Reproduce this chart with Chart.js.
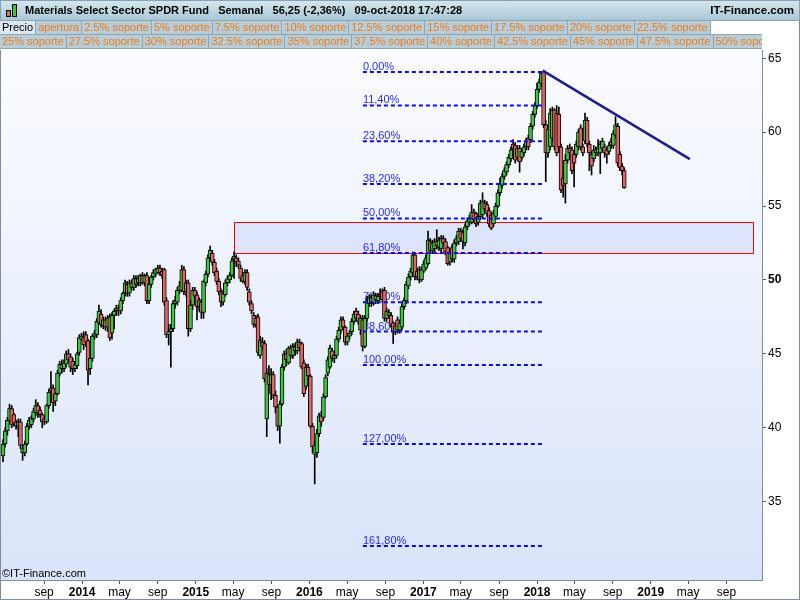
<!DOCTYPE html>
<html>
<head>
<meta charset="utf-8">
<script src="https://cdn.jsdelivr.net/npm/chart.js@4.4.0/dist/chart.umd.min.js"></script>
<style>
  body { margin: 0; background: #fff; font-family: 'Liberation Sans', Arial, sans-serif; }
  #wrap { position: relative; width: 800px; height: 600px; overflow: hidden; }
  #chart { position: absolute; left: 0; top: 0; }
  #title { position: absolute; left: 0; top: 0; width: 798px; height: 19px;
    background: linear-gradient(#d3e6ee, #a9c8d7); border: 1px solid #8aa2b0;
    font-weight: bold; font-size: 11px; line-height: 19px; color: #000; white-space: pre; }
  #title .name { position: absolute; left: 24px; top: 0; }
  #title .site { position: absolute; right: 5px; top: 0; font-size: 11.5px; }
  .ico { position: absolute; width: 3px; border: 1px solid #000; }
  .row { position: absolute; left: 0; width: 762px; height: 13px; display: flex;
    background: #b7cdd9; border-top: 1px solid #8ea6b4; border-bottom: 1px solid #8ea6b4;
    overflow: hidden; white-space: nowrap; }
  .row span { font-size: 11px; line-height: 13px; color: #f07c14; padding: 0 2px;
    border-right: 1px solid #8ea6b4; }
  .row span.price { color: #000; background: #dbe8ef; }
  #copy { position: absolute; left: 2px; top: 567px; font-size: 11px; color: #000; }
</style>
</head>
<body>
<div id="wrap">
  <canvas id="chart" width="800" height="600"></canvas>
  <div id="title">
    <div class="ico" style="left:5px;top:9px;height:5px;background:#e36464"></div>
    <div class="ico" style="left:11px;top:3px;height:11px;background:#3cc83c"></div>
    <span class="name">Materials Select Sector SPDR Fund   Semanal   56,25 (-2,36%)   09-oct-2018 17:47:28</span>
    <span class="site">IT-Finance.com</span>
  </div>
  <div class="row" id="row1" style="top:20px"></div>
  <div class="row" id="row2" style="top:34px"></div>
  <div id="copy">©IT-Finance.com</div>
</div>
<script>
// weekly candles, first week starts 2013-04-22
const firstWeek = '2013-04-22';

const opens = [
  38.1, 38.9, 39.8, 40.5, 41.3, 40.9, 40.4, 40.1, 40.4, 38.3,
  38.3, 38.9, 40.1, 40.2, 40.6, 41.0, 41.5, 41.2, 40.9, 40.6,
  40.4, 41.5, 42.5, 42.7, 41.8, 42.3, 43.7, 44.3, 44.0, 44.3,
  45.0, 44.8, 44.5, 44.0, 44.2, 45.1, 46.0, 46.1, 46.3, 45.9,
  44.0, 44.7, 46.2, 46.3, 47.1, 47.7, 46.9, 47.3, 46.8, 47.5,
  46.4, 47.6, 47.9, 48.1, 47.9, 48.6, 49.1, 49.7, 49.1, 49.8,
  49.5, 50.1, 49.8, 49.8, 50.3, 49.8, 50.3, 48.6, 49.7, 50.2,
  50.4, 50.5, 50.8, 50.6, 50.7, 48.6, 46.3, 46.5, 46.7, 48.4,
  48.5, 49.3, 49.3, 50.7, 49.2, 49.8, 46.7, 48.3, 49.3, 49.0,
  48.2, 48.5, 47.8, 49.8, 50.4, 51.5, 51.8, 51.2, 50.6, 49.9,
  49.2, 48.5, 49.0, 49.8, 50.0, 50.3, 51.4, 51.5, 51.3, 50.8,
  50.3, 49.9, 50.5, 49.2, 48.4, 47.6, 47.0, 47.5, 44.9, 45.8,
  45.7, 40.6, 43.6, 42.9, 43.6, 42.2, 41.4, 40.1, 41.6, 44.1,
  45.0, 44.4, 45.4, 44.9, 45.5, 45.2, 45.8, 45.7, 44.4, 42.8,
  44.1, 43.5, 40.1, 38.2, 38.3, 39.6, 40.8, 40.7, 42.1, 43.7,
  44.1, 45.2, 44.7, 44.9, 46.0, 46.6, 47.3, 46.8, 45.8, 46.2,
  46.5, 47.2, 47.9, 47.7, 46.6, 47.3, 45.5, 47.4, 48.4, 48.8,
  48.4, 48.95, 48.6, 48.9, 49.2, 49.3, 47.4, 47.6, 47.6, 47.1,
  46.5, 47.3, 46.6, 46.8, 48.2, 48.6, 49.6, 50.2, 50.5, 51.7,
  50.2, 50.7, 50.0, 50.6, 50.8, 51.1, 52.6, 52.0, 52.1, 52.6,
  52.2, 52.1, 52.8, 52.6, 52.2, 51.2, 52.2, 51.4, 52.5, 52.6,
  53.3, 53.2, 52.5, 53.6, 53.9, 53.9, 54.6, 54.5, 53.9, 54.3,
  54.4, 55.2, 55.1, 54.7, 54.4, 53.8, 54.3, 55.0, 55.9, 56.4,
  57.0, 57.3, 57.8, 58.2, 59.2, 59.1, 58.3, 58.9, 58.3, 58.6,
  59.0, 59.6, 59.5, 60.4, 61.2, 61.8, 62.9, 63.3, 64.1, 60.5,
  58.6, 59.0, 59.6, 61.5, 61.3, 61.2, 59.0, 56.9, 56.5, 58.1,
  58.9, 58.8, 58.5, 58.5, 59.0, 60.3, 59.0, 59.4, 60.8, 59.2,
  58.5, 58.2, 58.8, 58.6, 58.6, 58.9, 59.0, 58.8, 58.7, 59.4,
  59.1, 59.8, 60.4, 58.5, 57.7, 57.4
];
const highs = [
  39.2, 40.0, 40.7, 41.6, 41.5, 41.0, 40.5, 40.6, 40.6, 38.8,
  39.1, 40.3, 40.7, 40.8, 41.3, 41.9, 41.7, 41.4, 41.0, 40.8,
  41.6, 42.6, 43.8, 42.9, 42.4, 43.9, 44.5, 44.6, 44.6, 45.2,
  45.3, 45.0, 44.7, 44.5, 45.1, 46.3, 46.4, 46.5, 46.5, 46.0,
  45.0, 46.3, 46.6, 47.4, 48.3, 48.0, 47.5, 47.5, 47.6, 47.7,
  47.8, 48.0, 48.3, 48.3, 48.8, 49.2, 50.0, 49.9, 50.0, 50.0,
  50.3, 50.3, 50.3, 50.4, 50.5, 50.4, 50.5, 49.9, 50.3, 50.7,
  50.8, 51.0, 51.0, 50.8, 50.8, 48.8, 47.0, 47.0, 48.6, 48.9,
  49.5, 49.9, 51.0, 50.9, 50.0, 50.0, 48.6, 49.5, 49.5, 49.2,
  48.8, 48.7, 50.0, 50.6, 51.7, 52.3, 52.0, 51.4, 50.8, 50.1,
  49.4, 49.3, 50.0, 50.3, 50.5, 51.5, 51.9, 51.7, 51.5, 51.0,
  50.5, 50.7, 50.7, 49.4, 48.6, 47.8, 47.6, 47.7, 46.2, 46.1,
  45.9, 44.0, 44.2, 44.0, 43.8, 42.5, 41.5, 41.8, 44.3, 45.2,
  45.3, 45.5, 45.6, 45.7, 45.7, 46.0, 46.0, 45.8, 44.6, 44.3,
  44.3, 43.6, 40.3, 39.1, 39.9, 41.0, 41.1, 42.3, 43.6, 44.8,
  45.6, 45.4, 45.2, 46.2, 46.8, 47.5, 47.5, 46.9, 46.4, 46.6,
  47.4, 47.9, 48.1, 47.9, 47.6, 47.6, 47.6, 48.9, 49.0, 49.0,
  49.2, 49.1, 49.1, 49.4, 49.4, 49.5, 48.1, 48.0, 47.8, 47.2,
  47.1, 47.5, 47.3, 48.4, 48.8, 49.9, 50.4, 50.8, 51.9, 51.8,
  50.8, 50.9, 50.9, 51.3, 51.7, 53.3, 52.8, 52.7, 52.8, 53.4,
  52.9, 53.0, 53.0, 52.8, 52.3, 52.1, 52.4, 52.7, 53.0, 53.5,
  53.5, 53.4, 53.8, 54.2, 54.4, 55.1, 54.8, 54.6, 54.5, 55.4,
  55.9, 55.4, 55.3, 54.9, 54.6, 54.7, 55.2, 56.1, 56.9, 57.2,
  57.6, 58.0, 58.5, 59.0, 59.5, 59.3, 59.1, 59.1, 58.9, 59.2,
  59.6, 59.8, 60.6, 61.4, 62.0, 63.3, 63.6, 64.1, 64.2, 60.8,
  60.5, 61.6, 61.7, 61.6, 61.8, 61.7, 59.2, 57.3, 58.5, 59.1,
  59.2, 59.0, 58.7, 59.4, 60.2, 60.5, 59.2, 61.3, 61.0, 59.4,
  58.7, 59.1, 59.0, 59.5, 59.4, 59.6, 59.2, 59.0, 59.3, 59.6,
  60.1, 61.05, 60.6, 58.7, 57.9, 57.6
];
const lows = [
  37.7, 38.7, 39.5, 40.3, 40.0, 40.1, 39.9, 39.4, 38.6, 37.8,
  38.1, 38.8, 39.9, 40.0, 40.4, 40.8, 40.7, 40.7, 40.0, 40.2,
  40.3, 41.3, 42.2, 41.1, 41.5, 42.2, 43.5, 43.7, 43.8, 44.1,
  44.4, 43.8, 43.6, 43.8, 44.0, 44.9, 45.9, 45.3, 45.5, 42.9,
  43.6, 44.5, 46.0, 46.1, 47.0, 46.8, 46.7, 46.6, 46.5, 45.9,
  46.0, 46.7, 47.6, 47.6, 47.7, 48.4, 48.9, 48.9, 48.9, 49.3,
  49.3, 49.5, 49.6, 49.6, 49.7, 49.6, 48.4, 48.4, 49.5, 50.0,
  50.2, 50.4, 50.3, 50.1, 48.3, 46.1, 45.6, 44.1, 46.5, 48.1,
  48.3, 49.1, 49.2, 49.0, 48.9, 46.2, 46.5, 48.0, 48.7, 47.3,
  47.9, 47.4, 47.4, 49.6, 50.2, 51.3, 51.0, 50.3, 49.7, 49.0,
  48.2, 48.3, 48.9, 49.6, 49.8, 50.2, 50.1, 50.9, 50.8, 49.9,
  49.8, 49.7, 49.3, 48.3, 47.7, 46.8, 46.8, 44.9, 44.7, 45.3,
  43.1, 39.4, 42.3, 41.9, 42.0, 41.0, 39.8, 38.95, 41.5, 43.9,
  44.2, 44.3, 44.7, 44.7, 44.9, 45.0, 45.2, 44.0, 42.1, 42.6,
  43.3, 40.0, 38.3, 36.2, 38.0, 39.4, 40.1, 40.5, 42.0, 43.5,
  44.0, 44.5, 44.4, 44.7, 45.8, 46.4, 46.6, 45.6, 45.6, 46.0,
  46.3, 47.0, 47.2, 47.0, 46.3, 45.2, 45.4, 47.2, 48.2, 48.2,
  48.3, 48.4, 48.4, 48.7, 48.5, 47.2, 47.2, 47.4, 46.8, 45.7,
  46.3, 46.4, 46.4, 46.6, 48.0, 48.4, 49.4, 50.0, 50.4, 50.0,
  50.0, 49.8, 49.9, 50.5, 50.7, 51.0, 51.8, 51.8, 51.9, 52.1,
  52.0, 51.9, 52.3, 51.7, 51.0, 51.0, 51.2, 51.2, 52.3, 52.4,
  52.6, 52.1, 52.3, 53.4, 53.7, 53.8, 53.9, 53.6, 53.7, 54.1,
  54.2, 54.6, 54.3, 53.6, 53.4, 53.6, 54.1, 54.9, 55.7, 56.2,
  56.8, 57.1, 57.6, 58.0, 58.7, 57.9, 58.1, 57.3, 58.1, 58.4,
  58.8, 58.8, 59.3, 60.2, 61.0, 61.6, 62.7, 63.1, 60.3, 56.65,
  58.3, 58.8, 59.4, 58.8, 58.4, 58.8, 55.9, 55.6, 55.2, 57.9,
  58.3, 57.2, 56.3, 58.3, 58.8, 58.8, 58.4, 59.2, 59.0, 57.4,
  57.1, 58.0, 58.4, 58.4, 57.2, 58.7, 58.3, 57.9, 58.5, 58.9,
  58.9, 59.6, 57.7, 57.4, 57.1, 56.2
];
const closes = [
  38.9, 39.8, 40.5, 41.3, 40.2, 40.3, 40.1, 40.4, 38.8, 38.6,
  38.9, 40.1, 40.5, 40.6, 41.1, 41.5, 41.0, 40.9, 40.4, 40.4,
  41.5, 42.4, 42.7, 41.7, 42.3, 43.7, 44.3, 44.0, 44.4, 45.0,
  44.6, 44.1, 44.0, 44.3, 45.0, 46.1, 46.2, 45.6, 45.8, 43.9,
  44.7, 46.2, 46.4, 47.2, 47.9, 47.0, 47.3, 46.8, 47.4, 46.1,
  47.6, 47.9, 48.1, 47.9, 48.6, 49.1, 49.8, 49.1, 49.8, 49.5,
  50.1, 49.7, 50.1, 50.3, 49.8, 50.3, 48.6, 49.7, 50.2, 50.5,
  50.7, 50.8, 50.5, 50.3, 48.5, 46.3, 46.5, 46.7, 48.4, 48.6,
  49.3, 49.6, 50.7, 49.2, 49.8, 46.7, 48.3, 49.3, 48.9, 48.2,
  48.6, 47.8, 49.9, 50.4, 51.5, 52.0, 51.2, 50.5, 49.9, 49.2,
  48.5, 49.1, 49.8, 50.1, 50.3, 51.3, 51.6, 51.2, 51.0, 50.1,
  49.9, 50.5, 49.5, 48.5, 47.9, 47.0, 47.4, 45.1, 45.9, 45.5,
  43.3, 43.7, 42.9, 43.6, 42.2, 41.4, 40.1, 41.6, 44.1, 45.0,
  44.6, 45.4, 44.9, 45.5, 45.2, 45.8, 45.4, 44.1, 42.3, 44.1,
  43.5, 40.1, 38.7, 38.8, 39.6, 40.8, 40.4, 42.1, 43.4, 44.6,
  45.4, 44.7, 44.9, 46.0, 46.6, 47.3, 46.8, 45.8, 46.2, 46.4,
  47.2, 47.7, 47.4, 47.2, 47.4, 45.5, 47.4, 48.6, 48.8, 48.4,
  49.0, 48.65, 48.9, 49.0, 48.65, 47.4, 47.9, 47.8, 46.9, 46.5,
  46.9, 46.6, 47.1, 48.2, 48.6, 49.7, 50.2, 50.6, 51.7, 50.2,
  50.6, 50.0, 50.7, 51.1, 51.5, 52.7, 52.0, 52.5, 52.6, 52.3,
  52.7, 52.8, 52.5, 51.9, 51.1, 51.9, 51.4, 52.5, 52.8, 53.3,
  52.8, 52.6, 53.6, 54.0, 54.2, 54.6, 54.1, 53.8, 54.3, 55.2,
  55.3, 54.8, 54.5, 53.8, 53.5, 54.5, 55.0, 55.9, 56.5, 57.0,
  57.4, 57.8, 58.3, 58.8, 58.9, 58.1, 58.9, 58.0, 58.7, 59.0,
  59.4, 59.0, 60.4, 61.2, 61.8, 62.9, 63.4, 64.0, 60.5, 58.6,
  60.2, 61.3, 61.5, 59.0, 58.6, 59.0, 56.1, 56.4, 58.1, 58.9,
  58.6, 57.4, 57.9, 59.2, 60.0, 59.0, 58.6, 60.8, 59.2, 58.6,
  57.7, 58.8, 58.6, 58.9, 59.2, 59.4, 58.6, 58.5, 59.1, 59.1,
  59.9, 60.5, 57.9, 57.6, 57.4, 56.25
];

// axis ticks
const xTickDates = ['2013-09-01', '2014-01-01', '2014-05-01', '2014-09-01', '2015-01-01', '2015-05-01',
  '2015-09-01', '2016-01-01', '2016-05-01', '2016-09-01', '2017-01-01', '2017-05-01', '2017-09-01',
  '2018-01-01', '2018-05-01', '2018-09-01', '2019-01-01', '2019-05-01', '2019-09-01'];
const xTickLabels = ['sep', '2014', 'may', 'sep', '2015', 'may', 'sep', '2016', 'may', 'sep', '2017',
  'may', 'sep', '2018', 'may', 'sep', '2019', 'may', 'sep'];
const yTicks = [35, 40, 45, 50, 55, 60, 65];

// fibonacci retracement drawing
const fibHigh = 64.07;
const fibLow = 44.25;
const fibPct = [0, 11.4, 23.6, 38.2, 50, 61.8, 78.6, 88.6, 100, 127, 161.8];
const fibLabels = ['0,00%', '11,40%', '23,60%', '38,20%', '50,00%', '61,80%', '78,60%', '88,60%', '100,00%', '127,00%', '161,80%'];
const fibWeeks = [165.1, 247.2];

// trend line and zone
const trendWeeks = [247.8, 315.1];
const trendPrices = [64.15, 58.18];
const zoneWeeks = [106, 344];
const zonePrices = [51.85, 53.92];

const tabsRow1 = ['Precio', 'apertura', '2.5% soporte', '5% soporte', '7.5% soporte', '10% soporte',
  '12.5% soporte', '15% soporte', '17.5% soporte', '20% soporte', '22.5% soporte'];
const tabsRow2 = ['25% soporte', '27.5% soporte', '30% soporte', '32.5% soporte', '35% soporte',
  '37.5% soporte', '40% soporte', '42.5% soporte', '45% soporte', '47.5% soporte', '50% soporte'];

function fillTabs(id, list) {
  const row = document.getElementById(id);
  list.forEach(t => {
    const s = document.createElement('span');
    s.textContent = t;
    if (t === 'Precio') s.className = 'price';
    row.appendChild(s);
  });
}
fillTabs('row1', tabsRow1);
fillTabs('row2', tabsRow2);
document.getElementById('row1').style.width = '711px';

function weekOf(d) {
  return (Date.parse(d) - Date.parse(firstWeek)) / (7 * 86400000);
}
function fibPrice(p) {
  return fibHigh - p / 100 * (fibHigh - fibLow);
}

const GREEN = '#3cc83c';
const RED = '#e36464';

const wickData = closes.map((c, i) => ({ x: i, y: [lows[i], highs[i]] }));
const bodyData = closes.map((c, i) => ({ x: i, y: [opens[i], closes[i]] }));
const bodyColors = closes.map((c, i) => c >= opens[i] ? GREEN : RED);

const fibSets = fibPct.map(p => ({
  type: 'line',
  data: [{ x: fibWeeks[0], y: fibPrice(p) }, { x: fibWeeks[1], y: fibPrice(p) }],
  borderColor: '#0a0aff',
  borderWidth: 2,
  borderDash: [4, 3],
  pointRadius: 0,
  order: 1
}));

const backdrop = {
  id: 'backdrop',
  beforeDraw(chart) {
    const { ctx, chartArea: a } = chart;
    ctx.save();
    ctx.fillStyle = '#fff';
    ctx.fillRect(0, 0, chart.width, chart.height);
    const g = ctx.createLinearGradient(0, a.top, 0, a.bottom);
    g.addColorStop(0, '#fbfcff');
    g.addColorStop(1, '#d9e4fa');
    ctx.fillStyle = g;
    ctx.fillRect(a.left, a.top, a.right - a.left, a.bottom - a.top);
    ctx.strokeStyle = '#7e8e9c';
    ctx.lineWidth = 1;
    ctx.beginPath();
    ctx.moveTo(0.5, a.top);
    ctx.lineTo(0.5, chart.height);
    ctx.moveTo(chart.width - 0.5, 0);
    ctx.lineTo(chart.width - 0.5, chart.height);
    ctx.moveTo(0, chart.height - 0.5);
    ctx.lineTo(chart.width, chart.height - 0.5);
    ctx.stroke();
    ctx.restore();
  },
  beforeDatasetsDraw(chart) {
    const { ctx, scales: { x, y } } = chart;
    ctx.save();
    // zone
    const zx0 = x.getPixelForValue(zoneWeeks[0]), zx1 = x.getPixelForValue(zoneWeeks[1]);
    const zy0 = y.getPixelForValue(zonePrices[1]), zy1 = y.getPixelForValue(zonePrices[0]);
    ctx.fillStyle = '#dce5fb';
    ctx.fillRect(zx0, zy0, zx1 - zx0, zy1 - zy0);
    ctx.strokeStyle = '#ff0000';
    ctx.lineWidth = 1;
    ctx.strokeRect(Math.round(zx0) + 0.5, Math.round(zy0) + 0.5, Math.round(zx1 - zx0), Math.round(zy1 - zy0));
    // fib labels
    ctx.fillStyle = '#2a2aff';
    ctx.font = '11px "Liberation Sans", Arial, sans-serif';
    ctx.textBaseline = 'alphabetic';
    fibPct.forEach((p, k) => {
      ctx.fillText(fibLabels[k], x.getPixelForValue(fibWeeks[0]), y.getPixelForValue(fibPrice(p)) - 2);
    });
    ctx.restore();
  }
};

Chart.defaults.font.family = "'Liberation Sans', Arial, sans-serif";

new Chart(document.getElementById('chart'), {
  type: 'bar',
  data: {
    datasets: [
      {
        data: wickData,
        backgroundColor: '#000',
        barThickness: 1,
        grouped: false,
        order: 3
      },
      {
        data: bodyData,
        backgroundColor: bodyColors,
        borderColor: '#000',
        borderWidth: 1,
        borderSkipped: false,
        barThickness: 4,
        minBarLength: 2,
        grouped: false,
        order: 2
      },
      ...fibSets,
      {
        type: 'line',
        data: [{ x: trendWeeks[0], y: trendPrices[0] }, { x: trendWeeks[1], y: trendPrices[1] }],
        borderColor: '#1e1e8c',
        borderWidth: 2.5,
        pointRadius: 0,
        order: 1
      }
    ]
  },
  options: {
    responsive: false,
    animation: false,
    layout: { padding: { top: 50, left: 1, right: 0, bottom: 0 } },
    plugins: { legend: { display: false }, tooltip: { enabled: false } },
    scales: {
      x: {
        type: 'linear',
        min: -0.92,
        max: 348.2,
        offset: false,
        afterFit: a => { a.height = 20; },
        afterBuildTicks: a => { a.ticks = xTickDates.map(d => ({ value: weekOf(d) })); },
        grid: { drawOnChartArea: false, drawTicks: true, tickLength: 4, color: '#555', offset: false },
        border: { color: '#7e8e9c', width: 1 },
        ticks: {
          autoSkip: false,
          maxRotation: 0,
          padding: 1,
          color: '#000',
          callback: (v, i) => xTickLabels[i],
          font: c => ({ size: 12, weight: /^\d+$/.test(xTickLabels[c.index] || '') ? 'bold' : 'normal' })
        }
      },
      y: {
        type: 'linear',
        position: 'right',
        min: 29.70,
        max: 65.56,
        beginAtZero: false,
        afterFit: a => { a.width = 38; },
        afterBuildTicks: a => { a.ticks = yTicks.map(v => ({ value: v })); },
        grid: { drawOnChartArea: false, drawTicks: true, tickLength: 4, color: '#555' },
        border: { color: '#7e8e9c', width: 1 },
        ticks: {
          padding: 2,
          color: '#000',
          callback: v => String(v),
          font: c => ({ size: 12, weight: c.tick && c.tick.value === 50 ? 'bold' : 'normal' })
        }
      }
    }
  },
  plugins: [backdrop]
});
</script>
</body>
</html>
